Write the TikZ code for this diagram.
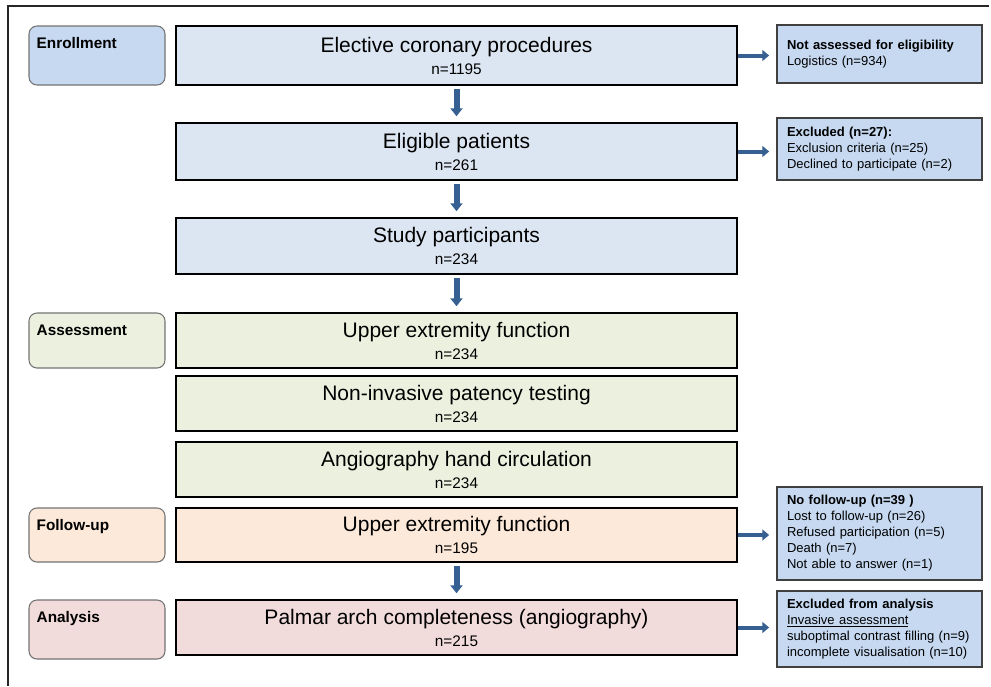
\documentclass[tikz,border=0pt]{standalone}
\usepackage{fontspec}
\setmainfont{Liberation Sans}
\usetikzlibrary{arrows.meta,positioning}

\definecolor{stageblue}{HTML}{C6D9F1}
\definecolor{mainblue}{HTML}{DCE6F2}
\definecolor{sideblue}{HTML}{C6D9F1}
\definecolor{assessgreen}{HTML}{EBF1DE}
\definecolor{followpeach}{HTML}{FDE9D9}
\definecolor{analysisrose}{HTML}{F2DCDB}
\definecolor{arrowblue}{HTML}{376092}

\newcommand{\countline}[1]{\\{\fontsize{11.5}{13}\selectfont n=#1}}

\tikzset{
    stagebox/.style={draw=black!55, line width=0.8pt, rounded corners=6pt,
        minimum width=102pt, minimum height=44pt, inner sep=0pt},
    stagetext/.style={anchor=north west, inner sep=0pt, xshift=6pt, yshift=-9pt,
        font=\fontsize{11.5}{13}\selectfont\bfseries},
    mainbox/.style={draw=black, line width=1.1pt, minimum width=420.75pt,
        minimum height=41.25pt, inner sep=0pt, align=center,
        font=\fontsize{15.75}{16.5}\selectfont},
    sidebox/.style={draw=black!75, fill=sideblue, line width=0.8pt,
        text width=138.75pt, inner xsep=7.5pt, inner ysep=0pt, align=left,
        font=\fontsize{9.75}{12}\selectfont},
    downarrow/.style={-{Triangle[width=9pt,length=6pt]}, line width=4.5pt,
        arrowblue, shorten <=2.5pt, shorten >=4.5pt},
    sidearrow/.style={-{Triangle[width=8pt,length=5pt]}, line width=3pt,
        arrowblue, shorten >=5.5pt}
}

\begin{document}
\begin{tikzpicture}[x=0.75pt, y=-0.75pt]
    \useasboundingbox (0,0) rectangle (991,686);
    % frame
    \draw[line width=1.5pt, black!85] (989,6) -- (8,6) -- (8,686);

    % stages
    \node[stagebox, fill=stageblue, minimum height=44.25pt,
        label={[stagetext, name=enrolltxt]north west:Enrollment}] (enroll) at (97,55.5) {};
    \node[stagebox, fill=assessgreen, minimum height=41.25pt,
        label={[stagetext, name=assesstxt]north west:Assessment}] (assess) at (97,340.5) {};
    \node[stagebox, fill=followpeach, minimum height=40.5pt,
        label={[stagetext, name=followtxt]north west:Follow-up}] (follow) at (97,535) {};
    \node[stagebox, fill=analysisrose, minimum height=44.25pt,
        label={[stagetext, name=analysistxt]north west:Analysis}] (analysis) at (97,629.5) {};

    % main column
    \node[mainbox, fill=mainblue, minimum height=44.25pt] (elective) at (456.5,55.5)
        {Elective coronary procedures\countline{1195}};
    \node[mainbox, fill=mainblue, minimum height=42.75pt] (eligible) at (456.5,151.5)
        {Eligible patients\countline{261}};
    \node[mainbox, fill=mainblue, minimum height=42pt] (study) at (456.5,246)
        {Study participants\countline{234}};
    \node[mainbox, fill=assessgreen] (upper) at (456.5,340.5)
        {Upper extremity function\countline{234}};
    \node[mainbox, fill=assessgreen] (noninv) at (456.5,403.5)
        {Non-invasive patency testing\countline{234}};
    \node[mainbox, fill=assessgreen] (angio) at (456.5,469.5)
        {Angiography hand circulation\countline{234}};
    \node[mainbox, fill=followpeach, minimum height=40.5pt] (fupper) at (456.5,535)
        {Upper extremity function\countline{195}};
    \node[mainbox, fill=analysisrose] (palmar) at (456.5,627.5)
        {Palmar arch completeness (angiography)\countline{215}};

    % side boxes
    \node[sidebox, minimum height=43.5pt] (notassessed) at (879.5,54)
        {\textbf{Not assessed for eligibility}\\Logistics (n=934)};
    \node[sidebox, minimum height=46.5pt] (excluded) at (879.5,149)
        {\textbf{Excluded (n=27):}\\Exclusion criteria (n=25)\\Declined to participate (n=2)};
    \node[sidebox, minimum height=69.75pt] (nofollow) at (879.5,533.5)
        {\textbf{No follow-up (n=39 )}\\Lost to follow-up (n=26)\\Refused participation (n=5)\\Death (n=7)\\Not able to answer (n=1)};
    \node[sidebox, minimum height=57pt] (exclanalysis) at (879.5,629)
        {\textbf{Excluded from analysis}\\\underline{Invasive assessment}\\suboptimal contrast filling (n=9)\\incomplete visualisation (n=10)};

    % arrows
    \draw[downarrow] (elective) -- (eligible);
    \draw[downarrow] (eligible) -- (study);
    \draw[downarrow] (study) -- (upper);
    \draw[downarrow] (fupper) -- (palmar);
    \draw[sidearrow] (elective.east) -- (elective.east -| notassessed.west);
    \draw[sidearrow] (eligible.east) -- (eligible.east -| excluded.west);
    \draw[sidearrow] (fupper.east) -- (fupper.east -| nofollow.west);
    \draw[sidearrow] (palmar.east) -- (palmar.east -| exclanalysis.west);
\end{tikzpicture}
\end{document}
